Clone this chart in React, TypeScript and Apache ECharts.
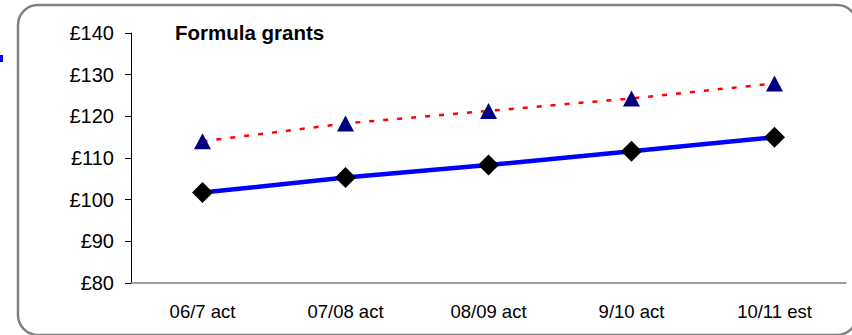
import React, { useEffect, useRef } from "react";
import * as echarts from "echarts";

const categories = ["06/7 act", "07/08 act", "08/09 act", "9/10 act", "10/11 est"];
const upperValues = [114.0, 118.3, 121.3, 124.3, 127.9];
const lowerValues = [101.7, 105.3, 108.3, 111.6, 115.0];
const yMin = 80;
const yMax = 140;
const yInterval = 10;
const titleText = "Formula grants";

export default function App() {
  const ref = useRef<HTMLDivElement>(null);
  useEffect(() => {
    if (!ref.current) return;
    const chart = echarts.init(ref.current, null, { renderer: "svg" });
    chart.setOption({
      animation: false,
      backgroundColor: "#ffffff",
      textStyle: { fontFamily: "Liberation Sans, Arial, sans-serif" },
      grid: { left: 131, right: 6, top: 33, bottom: 52, containLabel: false },
      xAxis: {
        type: "category",
        data: categories,
        boundaryGap: true,
        axisLine: { lineStyle: { color: "#808080", width: 1.5 } },
        axisTick: { show: false },
        axisLabel: { color: "#000", fontSize: 18.5, margin: 19 },
        splitLine: { show: false },
      },
      yAxis: {
        type: "value",
        min: yMin,
        max: yMax,
        interval: yInterval,
        axisLine: { show: true, lineStyle: { color: "#000", width: 1 } },
        axisTick: { show: true, length: 6, lineStyle: { color: "#000" } },
        axisLabel: {
          color: "#000",
          fontSize: 20,
          margin: 17,
          formatter: (v: number) => "£" + v,
        },
        splitLine: { show: false },
      },
      series: [
        {
          type: "line",
          data: upperValues,
          symbol: "triangle",
          symbolSize: [17, 16],
          itemStyle: { color: "#000080" },
          lineStyle: { color: "#ff0000", width: 2.5, type: [5, 9] },
          z: 2,
        },
        {
          type: "line",
          data: lowerValues,
          symbol: "diamond",
          symbolSize: [21, 21],
          itemStyle: { color: "#000000" },
          lineStyle: { color: "#0000ff", width: 4.5 },
          z: 3,
        },
      ],
      graphic: [
        {
          type: "rect",
          shape: { x: 18, y: 5, width: 839, height: 330, r: 20 },
          style: { fill: "none", stroke: "#808080", lineWidth: 2.5 },
          z: -1,
        },
        {
          type: "rect",
          shape: { x: 0, y: 55, width: 3, height: 7 },
          style: { fill: "#0000ff" },
        },
        {
          type: "text",
          x: 175,
          y: 32,
          style: {
            text: titleText,
            fontSize: 20.5,
            fontWeight: "bold",
            fill: "#000",
            fontFamily: "Liberation Sans, Arial, sans-serif",
            textVerticalAlign: "middle",
            verticalAlign: "middle",
          },
        },
      ],
    });
    return () => chart.dispose();
  }, []);
  return (
    <div
      ref={ref}
      style={{ position: "fixed", left: 0, top: 0, width: 852, height: 335 }}
    />
  );
}
